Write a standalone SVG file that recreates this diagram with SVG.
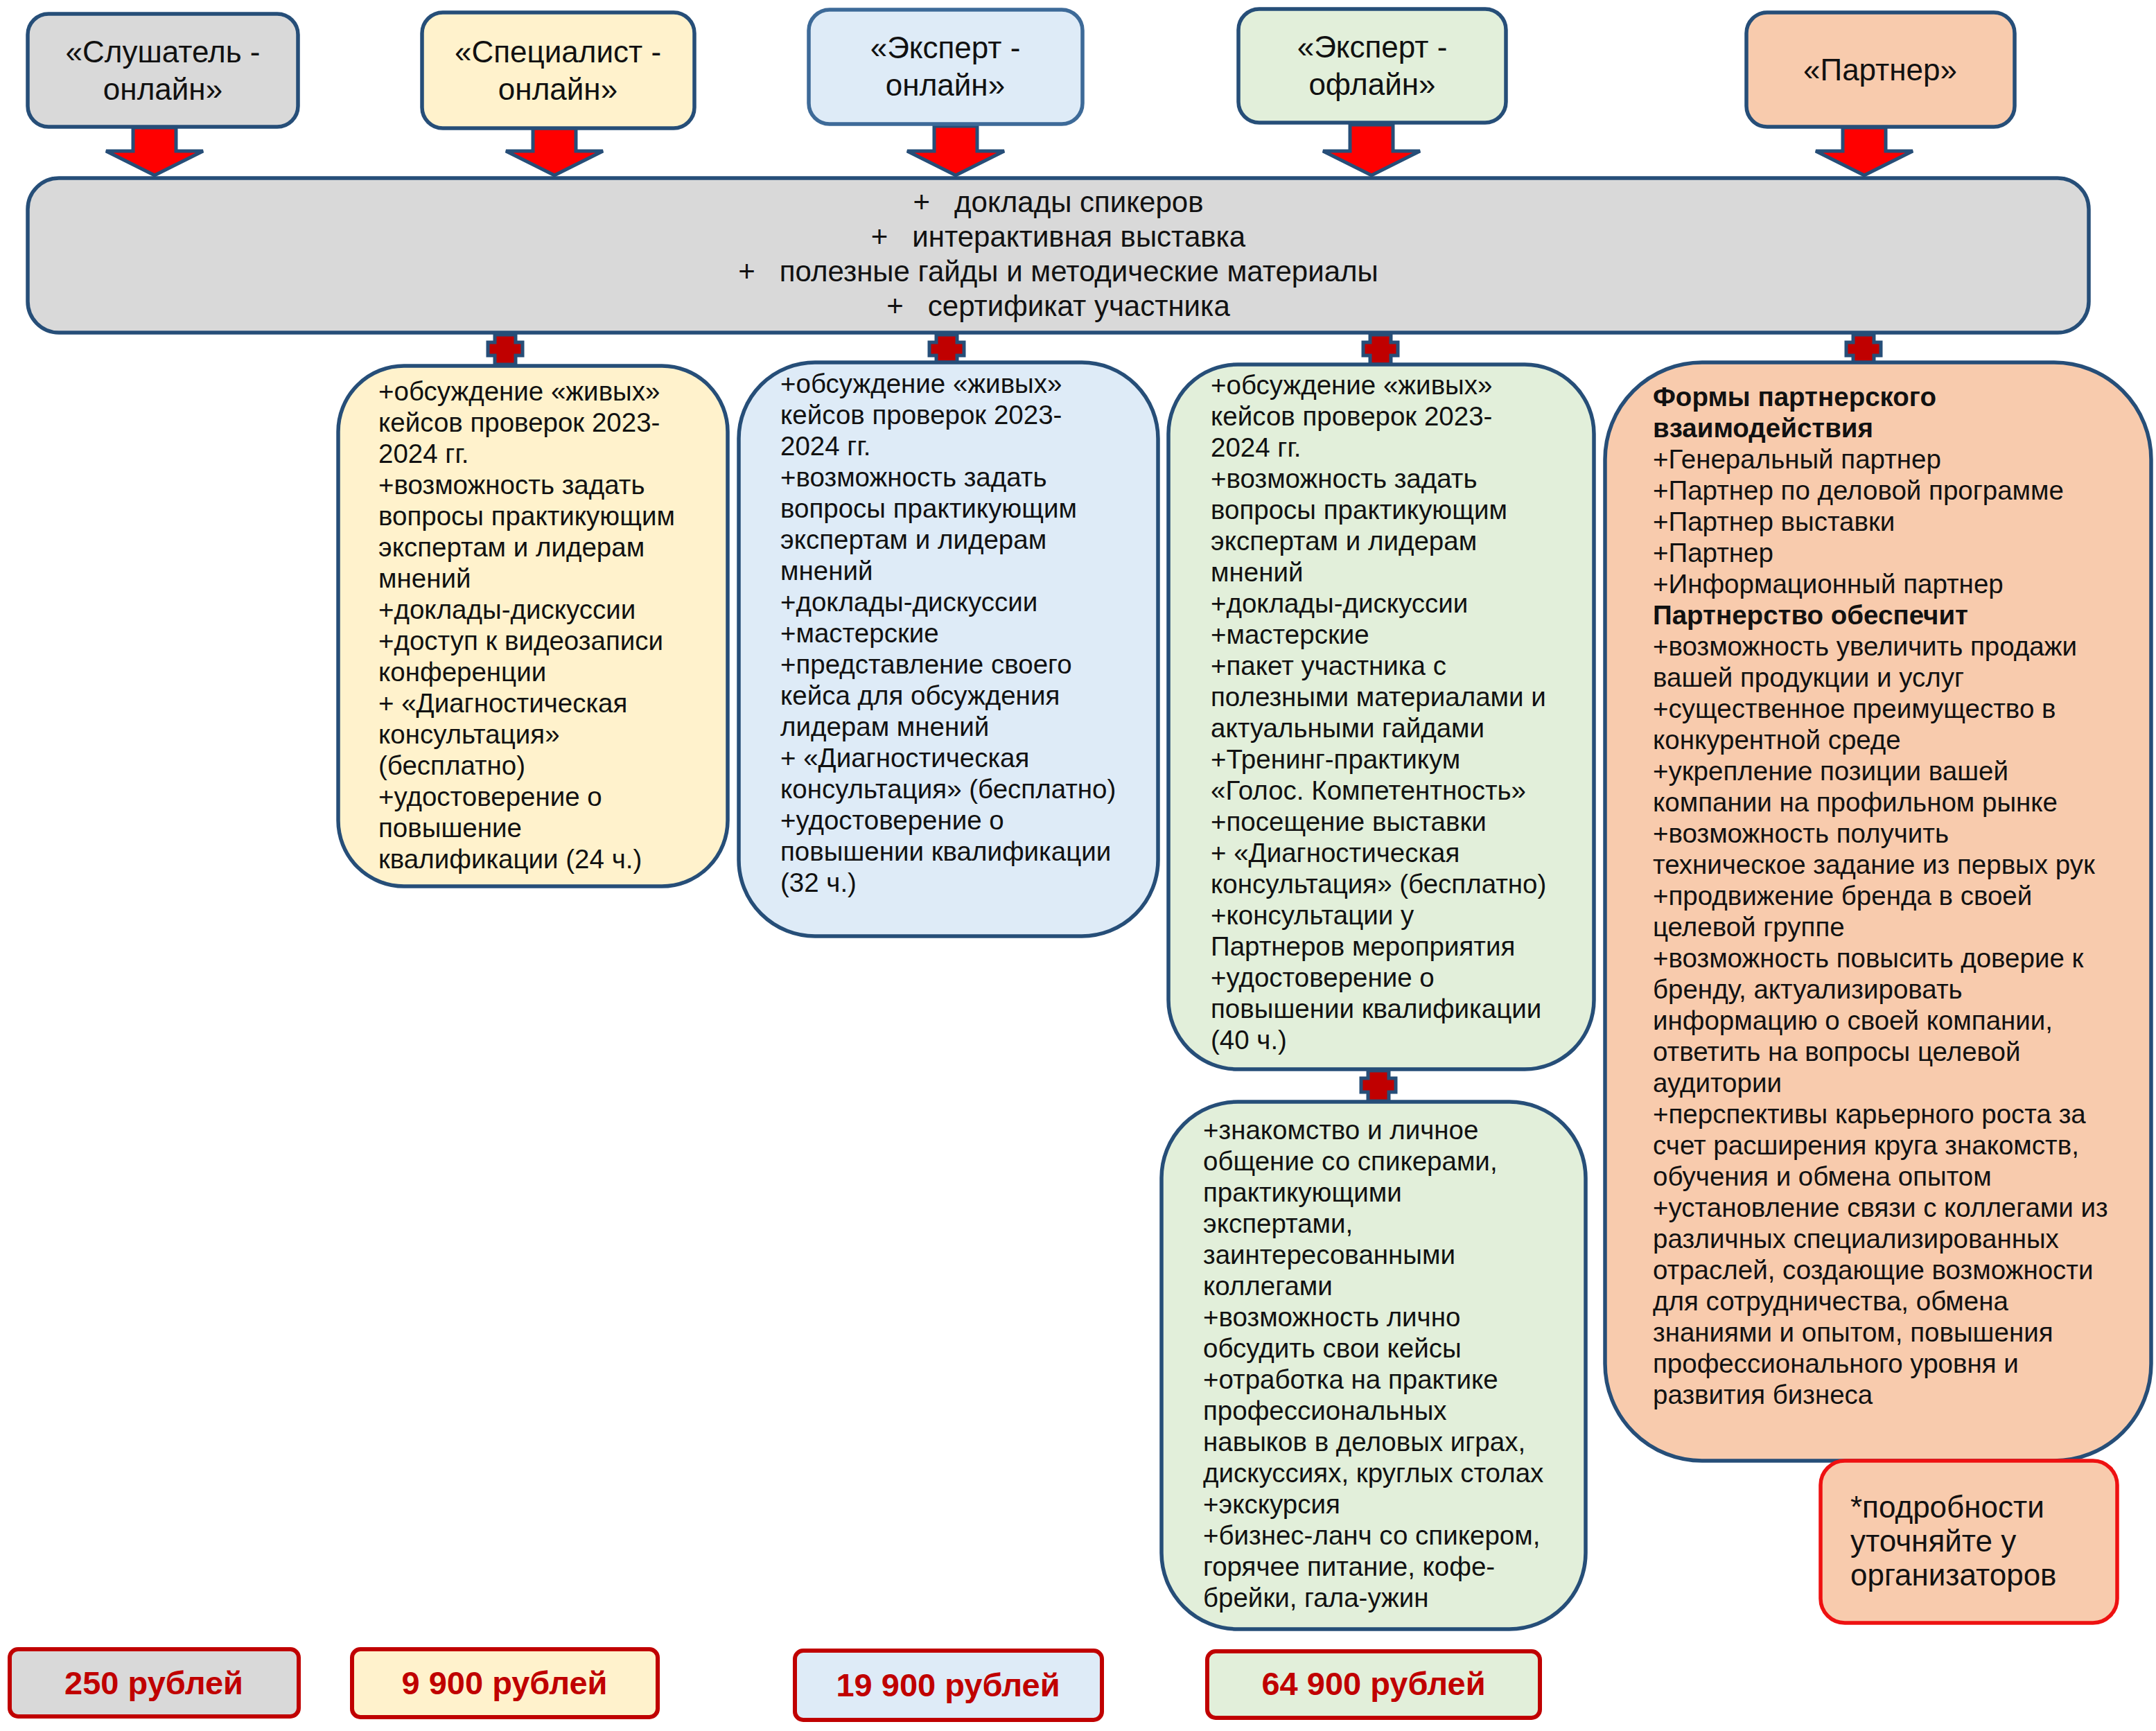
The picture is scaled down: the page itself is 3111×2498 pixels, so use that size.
<svg xmlns="http://www.w3.org/2000/svg" width="3111" height="2498" viewBox="0 0 3111 2498">
<style>
  .bx { stroke:#264e78; stroke-width:5.5; }
  .gray { fill:#d9d9d9; } .yel { fill:#fff2cc; } .blu { fill:#deebf7; } .grn { fill:#e2efda; } .pch { fill:#f8cbad; }
  .arrow { fill:#ff0000; stroke:#264e78; stroke-width:5; stroke-linejoin:miter; }
  .plus { fill:#c00000; stroke:#264e78; stroke-width:5; }
  .price { stroke:#c00000; stroke-width:6; }
  .ttl { font-family:"Liberation Sans", Arial, sans-serif; font-size:44px; fill:#111; text-anchor:middle; }
  .main { font-family:"Liberation Sans", Arial, sans-serif; font-size:42px; fill:#111; text-anchor:middle; white-space:pre; }
  .body { font-family:"Liberation Sans", Arial, sans-serif; font-size:38.5px; fill:#111; }
  .b { font-weight:bold; }
  .pr { font-family:"Liberation Sans", Arial, sans-serif; font-size:47px; font-weight:bold; fill:#c00000; text-anchor:middle; }
  .note { font-family:"Liberation Sans", Arial, sans-serif; font-size:44px; fill:#111; }
</style>

<g id="connectors">
  <polygon class="arrow" points="192,184 254,184 254,218 293,218 223,253 153,218 192,218"/>
  <polygon class="arrow" points="769,184 831,184 831,218 870,218 800,253 730,218 769,218"/>
  <polygon class="arrow" points="1348,182 1410,182 1410,218 1449,218 1379,253 1309,218 1348,218"/>
  <polygon class="arrow" points="1948,180 2010,180 2010,218 2049,218 1979,253 1909,218 1948,218"/>
  <polygon class="arrow" points="2659,184 2721,184 2721,218 2760,218 2690,253 2620,218 2659,218"/>
  <polygon class="plus" points="714,483 744,483 744,494 754,494 754,513 744,513 744,526 714,526 714,513 704,513 704,494 714,494"/>
  <polygon class="plus" points="1351,483 1381,483 1381,494 1391,494 1391,513 1381,513 1381,523 1351,523 1351,513 1341,513 1341,494 1351,494"/>
  <polygon class="plus" points="1977,483 2007,483 2007,494 2017,494 2017,513 2007,513 2007,526 1977,526 1977,513 1967,513 1967,494 1977,494"/>
  <polygon class="plus" points="2674,483 2704,483 2704,494 2714,494 2714,513 2704,513 2704,524 2674,524 2674,513 2664,513 2664,494 2674,494"/>
  <polygon class="plus" points="1974,1545 2004,1545 2004,1556 2014,1556 2014,1576 2004,1576 2004,1589 1974,1589 1974,1576 1964,1576 1964,1556 1974,1556"/>
</g>

<g id="listener-online">
  <rect class="bx gray" x="40" y="20" width="390" height="163" rx="30"/>
  <text class="ttl" x="235" y="90">«Слушатель -</text>
  <text class="ttl" x="235" y="144">онлайн»</text>
</g>
<g id="specialist-online">
  <rect class="bx yel" x="609" y="18" width="393" height="167" rx="30"/>
  <text class="ttl" x="805" y="90">«Специалист -</text>
  <text class="ttl" x="805" y="144">онлайн»</text>
</g>
<g id="expert-online">
  <rect class="bx blu" x="1167" y="14" width="395" height="165" rx="30" style="stroke:#3d6a98"/>
  <text class="ttl" x="1364" y="84">«Эксперт -</text>
  <text class="ttl" x="1364" y="138">онлайн»</text>
</g>
<g id="expert-offline">
  <rect class="bx grn" x="1787" y="13" width="386" height="164" rx="30"/>
  <text class="ttl" x="1980" y="83">«Эксперт -</text>
  <text class="ttl" x="1980" y="137">офлайн»</text>
</g>
<g id="partner">
  <rect class="bx pch" x="2520" y="18" width="387" height="165" rx="30"/>
  <text class="ttl" x="2713" y="116">«Партнер»</text>
</g>

<g id="common">
  <rect class="bx gray" x="40" y="257" width="2974" height="223" rx="45"/>
  <text class="main" x="1527" y="306">+   доклады спикеров</text>
  <text class="main" x="1527" y="356">+   интерактивная выставка</text>
  <text class="main" x="1527" y="406">+   полезные гайды и методические материалы</text>
  <text class="main" x="1527" y="456">+   сертификат участника</text>
</g>

<g id="specialist-features">
  <rect class="bx yel" x="488" y="528" width="562" height="751" rx="95"/>
  <text class="body">
    <tspan x="546" y="578">+обсуждение «живых»</tspan>
    <tspan x="546" y="623">кейсов проверок 2023-</tspan>
    <tspan x="546" y="668">2024 гг.</tspan>
    <tspan x="546" y="713">+возможность задать</tspan>
    <tspan x="546" y="758">вопросы практикующим</tspan>
    <tspan x="546" y="803">экспертам и лидерам</tspan>
    <tspan x="546" y="848">мнений</tspan>
    <tspan x="546" y="893">+доклады-дискуссии</tspan>
    <tspan x="546" y="938">+доступ к видеозаписи</tspan>
    <tspan x="546" y="983">конференции</tspan>
    <tspan x="546" y="1028">+ «Диагностическая</tspan>
    <tspan x="546" y="1073">консультация»</tspan>
    <tspan x="546" y="1118">(бесплатно)</tspan>
    <tspan x="546" y="1163">+удостоверение о</tspan>
    <tspan x="546" y="1208">повышение</tspan>
    <tspan x="546" y="1253">квалификации (24 ч.)</tspan>
  </text>
</g>

<g id="expert-online-features">
  <rect class="bx blu" x="1066" y="523" width="605" height="828" rx="110"/>
  <text class="body">
    <tspan x="1126" y="567">+обсуждение «живых»</tspan>
    <tspan x="1126" y="612">кейсов проверок 2023-</tspan>
    <tspan x="1126" y="657">2024 гг.</tspan>
    <tspan x="1126" y="702">+возможность задать</tspan>
    <tspan x="1126" y="747">вопросы практикующим</tspan>
    <tspan x="1126" y="792">экспертам и лидерам</tspan>
    <tspan x="1126" y="837">мнений</tspan>
    <tspan x="1126" y="882">+доклады-дискуссии</tspan>
    <tspan x="1126" y="927">+мастерские</tspan>
    <tspan x="1126" y="972">+представление своего</tspan>
    <tspan x="1126" y="1017">кейса для обсуждения</tspan>
    <tspan x="1126" y="1062">лидерам мнений</tspan>
    <tspan x="1126" y="1107">+ «Диагностическая</tspan>
    <tspan x="1126" y="1152">консультация» (бесплатно)</tspan>
    <tspan x="1126" y="1197">+удостоверение о</tspan>
    <tspan x="1126" y="1242">повышении квалификации</tspan>
    <tspan x="1126" y="1287">(32 ч.)</tspan>
  </text>
</g>

<g id="expert-offline-features">
  <rect class="bx grn" x="1686" y="526" width="614" height="1017" rx="100"/>
  <text class="body">
    <tspan x="1747" y="569">+обсуждение «живых»</tspan>
    <tspan x="1747" y="614">кейсов проверок 2023-</tspan>
    <tspan x="1747" y="659">2024 гг.</tspan>
    <tspan x="1747" y="704">+возможность задать</tspan>
    <tspan x="1747" y="749">вопросы практикующим</tspan>
    <tspan x="1747" y="794">экспертам и лидерам</tspan>
    <tspan x="1747" y="839">мнений</tspan>
    <tspan x="1747" y="884">+доклады-дискуссии</tspan>
    <tspan x="1747" y="929">+мастерские</tspan>
    <tspan x="1747" y="974">+пакет участника с</tspan>
    <tspan x="1747" y="1019">полезными материалами и</tspan>
    <tspan x="1747" y="1064">актуальными гайдами</tspan>
    <tspan x="1747" y="1109">+Тренинг-практикум</tspan>
    <tspan x="1747" y="1154">«Голос. Компетентность»</tspan>
    <tspan x="1747" y="1199">+посещение выставки</tspan>
    <tspan x="1747" y="1244">+ «Диагностическая</tspan>
    <tspan x="1747" y="1289">консультация» (бесплатно)</tspan>
    <tspan x="1747" y="1334">+консультации у</tspan>
    <tspan x="1747" y="1379">Партнеров мероприятия</tspan>
    <tspan x="1747" y="1424">+удостоверение о</tspan>
    <tspan x="1747" y="1469">повышении квалификации</tspan>
    <tspan x="1747" y="1514">(40 ч.)</tspan>
  </text>
</g>

<g id="expert-offline-extra">
  <rect class="bx grn" x="1676" y="1590" width="612" height="761" rx="110"/>
  <text class="body">
    <tspan x="1736" y="1644">+знакомство и личное</tspan>
    <tspan x="1736" y="1689">общение со спикерами,</tspan>
    <tspan x="1736" y="1734">практикующими</tspan>
    <tspan x="1736" y="1779">экспертами,</tspan>
    <tspan x="1736" y="1824">заинтересованными</tspan>
    <tspan x="1736" y="1869">коллегами</tspan>
    <tspan x="1736" y="1914">+возможность лично</tspan>
    <tspan x="1736" y="1959">обсудить свои кейсы</tspan>
    <tspan x="1736" y="2004">+отработка на практике</tspan>
    <tspan x="1736" y="2049">профессиональных</tspan>
    <tspan x="1736" y="2094">навыков в деловых играх,</tspan>
    <tspan x="1736" y="2139">дискуссиях, круглых столах</tspan>
    <tspan x="1736" y="2184">+экскурсия</tspan>
    <tspan x="1736" y="2229">+бизнес-ланч со спикером,</tspan>
    <tspan x="1736" y="2274">горячее питание, кофе-</tspan>
    <tspan x="1736" y="2319">брейки, гала-ужин</tspan>
  </text>
</g>

<g id="partner-features">
  <rect class="bx pch" x="2316" y="523" width="788" height="1585" rx="140"/>
  <text class="body">
    <tspan class="b" x="2385" y="586">Формы партнерского</tspan>
    <tspan class="b" x="2385" y="631">взаимодействия</tspan>
    <tspan x="2385" y="676">+Генеральный партнер</tspan>
    <tspan x="2385" y="721">+Партнер по деловой программе</tspan>
    <tspan x="2385" y="766">+Партнер выставки</tspan>
    <tspan x="2385" y="811">+Партнер</tspan>
    <tspan x="2385" y="856">+Информационный партнер</tspan>
    <tspan class="b" x="2385" y="901">Партнерство обеспечит</tspan>
    <tspan x="2385" y="946">+возможность увеличить продажи</tspan>
    <tspan x="2385" y="991">вашей продукции и услуг</tspan>
    <tspan x="2385" y="1036">+существенное преимущество в</tspan>
    <tspan x="2385" y="1081">конкурентной среде</tspan>
    <tspan x="2385" y="1126">+укрепление позиции вашей</tspan>
    <tspan x="2385" y="1171">компании на профильном рынке</tspan>
    <tspan x="2385" y="1216">+возможность получить</tspan>
    <tspan x="2385" y="1261">техническое задание из первых рук</tspan>
    <tspan x="2385" y="1306">+продвижение бренда в своей</tspan>
    <tspan x="2385" y="1351">целевой группе</tspan>
    <tspan x="2385" y="1396">+возможность повысить доверие к</tspan>
    <tspan x="2385" y="1441">бренду, актуализировать</tspan>
    <tspan x="2385" y="1486">информацию о своей компании,</tspan>
    <tspan x="2385" y="1531">ответить на вопросы целевой</tspan>
    <tspan x="2385" y="1576">аудитории</tspan>
    <tspan x="2385" y="1621">+перспективы карьерного роста за</tspan>
    <tspan x="2385" y="1666">счет расширения круга знакомств,</tspan>
    <tspan x="2385" y="1711">обучения и обмена опытом</tspan>
    <tspan x="2385" y="1756">+установление связи с коллегами из</tspan>
    <tspan x="2385" y="1801">различных специализированных</tspan>
    <tspan x="2385" y="1846">отраслей, создающие возможности</tspan>
    <tspan x="2385" y="1891">для сотрудничества, обмена</tspan>
    <tspan x="2385" y="1936">знаниями и опытом, повышения</tspan>
    <tspan x="2385" y="1981">профессионального уровня и</tspan>
    <tspan x="2385" y="2026">развития бизнеса</tspan>
  </text>
</g>

<g id="partner-note">
  <rect x="2627" y="2108" width="428" height="234" rx="35" fill="#f8cbad" stroke="#ee1111" stroke-width="5.5"/>
  <text class="note">
    <tspan x="2670" y="2190">*подробности</tspan>
    <tspan x="2670" y="2239">уточняйте у</tspan>
    <tspan x="2670" y="2288">организаторов</tspan>
  </text>
</g>

<g id="price-listener">
  <rect class="price gray" x="14" y="2380" width="417" height="97" rx="12"/>
  <text class="pr" x="222" y="2445">250 рублей</text>
</g>
<g id="price-specialist">
  <rect class="price yel" x="508" y="2380" width="441" height="98" rx="12"/>
  <text class="pr" x="728" y="2445">9 900 рублей</text>
</g>
<g id="price-expert-online">
  <rect class="price blu" x="1147" y="2382" width="443" height="100" rx="12"/>
  <text class="pr" x="1368" y="2448">19 900 рублей</text>
</g>
<g id="price-expert-offline">
  <rect class="price grn" x="1742" y="2383" width="480" height="96" rx="12"/>
  <text class="pr" x="1982" y="2446">64 900 рублей</text>
</g>
</svg>
